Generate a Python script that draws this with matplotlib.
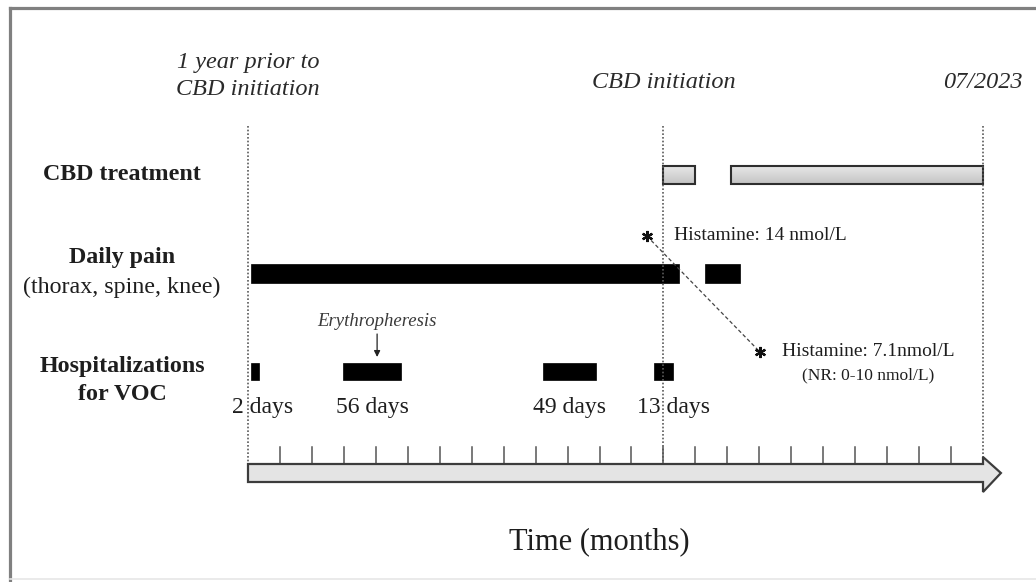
import numpy as np
import matplotlib.pyplot as plt
from matplotlib.patches import Rectangle, Polygon
from matplotlib.lines import Line2D
import matplotlib.transforms as mtransforms

plt.rcParams['font.family'] = ['Liberation Serif', 'DejaVu Serif']

# time axis in months, 0 = one year prior to CBD initiation
n_months = 23
cbd_month = 13
marker_months = [0, cbd_month, n_months]
marker_labels = ["1 year prior to\nCBD initiation", "CBD initiation", "07/2023"]

cbd_periods = [(13.0, 14.0), (15.1, 23.0)]
pain_periods = [(0.1, 13.5), (14.3, 15.4)]
hosp_periods = [(0.1, 0.35), (2.97, 4.79), (9.23, 10.89), (12.7, 13.3)]
hosp_labels = ["2 days", "56 days", "49 days", "13 days"]
hosp_label_x = [0.45, 3.9, 10.06, 13.3]

erythro_month = 4.04
hist_months = [12.48, 16.02]
hist_values = [14, 7.1]

# layout (pixel rows of the figure, top = 0)
W, H = 1036, 582
X0, PX_PER_MONTH = 248, 31.957
row_y = {"cbd": 175, "pain": 273.5, "hosp": 371.5}
row_h = {"cbd": 18, "pain": 19, "hosp": 17}
hist_y = [236, 352]
axis_top, axis_bot = 464, 482

fig = plt.figure(figsize=(W / 100, H / 100), dpi=100)
ax = fig.add_axes([0, 0, 1, 1])
ax.set_xlim(-X0 / PX_PER_MONTH, (W - X0) / PX_PER_MONTH)
ax.set_ylim(H, 0)
ax.axis("off")

txt = "#1e1e1e"

# frame
fig.add_artist(Line2D([9.5 / W, 9.5 / W], [0, 1 - 7.5 / H], color="#808080", lw=2.3))
fig.add_artist(Line2D([9.5 / W, 1], [1 - 7.5 / H, 1 - 7.5 / H], color="#808080", lw=2.3))
fig.add_artist(Line2D([9.5 / W, 1], [3.5 / H, 3.5 / H], color="#e6e6e6", lw=1.2))

# dotted reference lines + headers
for m, lab in zip(marker_months, marker_labels):
    ax.plot([m, m], [126, axis_top], ls=(0, (1, 1.2)), color="#5a5a5a", lw=1.2, zorder=4)
    y = 76 if "\n" in lab else 82
    ax.text(m, y, lab, ha="center", va="center", style="italic", fontsize=17.5,
            color="#2a2a2a", linespacing=1.35)

# time arrow
head = 23.56
arrow = Polygon([(0, axis_top), (n_months, axis_top), (n_months, 457), (head, 473),
                 (n_months, 492), (n_months, axis_bot), (0, axis_bot)],
                closed=True, facecolor="#e4e4e4", edgecolor="#3c3c3c", lw=1.6, zorder=5)
ax.add_patch(arrow)
for m in range(1, n_months):
    ax.plot([m, m], [447, axis_top], color="#555555", lw=1.1)
ax.text(11.0, 542, "Time (months)", ha="center", va="center", fontsize=22, color=txt)

# CBD treatment bars (soft grey gradient)
grad = np.linspace(0, 1, 64).reshape(-1, 1)
for a, b in cbd_periods:
    y0 = row_y["cbd"] - row_h["cbd"] / 2
    rect = Rectangle((a, y0), b - a, row_h["cbd"], facecolor="none",
                     edgecolor="#2e2e2e", lw=1.5, zorder=3)
    ax.add_patch(rect)
    im = ax.imshow(grad, extent=(a, b, y0 + row_h["cbd"], y0), cmap="Greys",
                   vmin=-1.06, vmax=4.82, aspect="auto", zorder=2, interpolation="bilinear")
    im.set_clip_path(rect)

# daily pain
for a, b in pain_periods:
    ax.add_patch(Rectangle((a, row_y["pain"] - row_h["pain"] / 2), b - a, row_h["pain"],
                           facecolor="black", edgecolor="black", lw=0.5))

# hospitalisations
for (a, b), lab, lx in zip(hosp_periods, hosp_labels, hosp_label_x):
    ax.add_patch(Rectangle((a, row_y["hosp"] - row_h["hosp"] / 2), b - a, row_h["hosp"],
                           facecolor="black", edgecolor="black", lw=0.5))
    ax.text(lx, 407, lab, ha="center", va="center", fontsize=17, color=txt)

ax.annotate("", xy=(erythro_month, 357), xytext=(erythro_month, 334),
            arrowprops=dict(arrowstyle="-|>", color="#222222", lw=0.9,
                            mutation_scale=9, shrinkA=0, shrinkB=0))
ax.text(erythro_month, 322, "Erythropheresis", ha="center", va="center",
        style="italic", fontsize=13.5, color="#3a3a3a")

# histamine measurements
ax.plot(hist_months, hist_y, ls=(0, (3, 2)), color="#444444", lw=0.9, zorder=6)
ax.plot(hist_months, hist_y, ls="none", marker=(6, 2, 0), ms=8, mew=1.6,
        color="#111111", zorder=7)
ax.text(hist_months[0] + 0.85, hist_y[0], f"Histamine: {hist_values[0]} nmol/L",
        ha="left", va="center", fontsize=14, color=txt)
ax.text(hist_months[1] + 0.69, hist_y[1], f"Histamine: {hist_values[1]}nmol/L",
        ha="left", va="center", fontsize=14, color=txt)
ax.text(19.4, 375, "(NR: 0-10 nmol/L)", ha="center", va="center", fontsize=12.5, color=txt)

# row labels
lt = mtransforms.blended_transform_factory(fig.transFigure, ax.transData)
lx = 122 / W
ax.text(lx, 175, "CBD treatment", transform=lt, ha="center", va="center",
        fontsize=17.3, fontweight="bold", color=txt)
ax.text(lx, 257, "Daily pain", transform=lt, ha="center", va="center",
        fontsize=17.3, fontweight="bold", color=txt)
ax.text(lx, 287, "(thorax, spine, knee)", transform=lt, ha="center", va="center",
        fontsize=17.3, color=txt)
ax.text(lx, 380.5, "Hospitalizations\nfor VOC", transform=lt, ha="center", va="center",
        fontsize=17.3, fontweight="bold", color=txt, linespacing=1.4)

fig.savefig("out.png", dpi=100)
